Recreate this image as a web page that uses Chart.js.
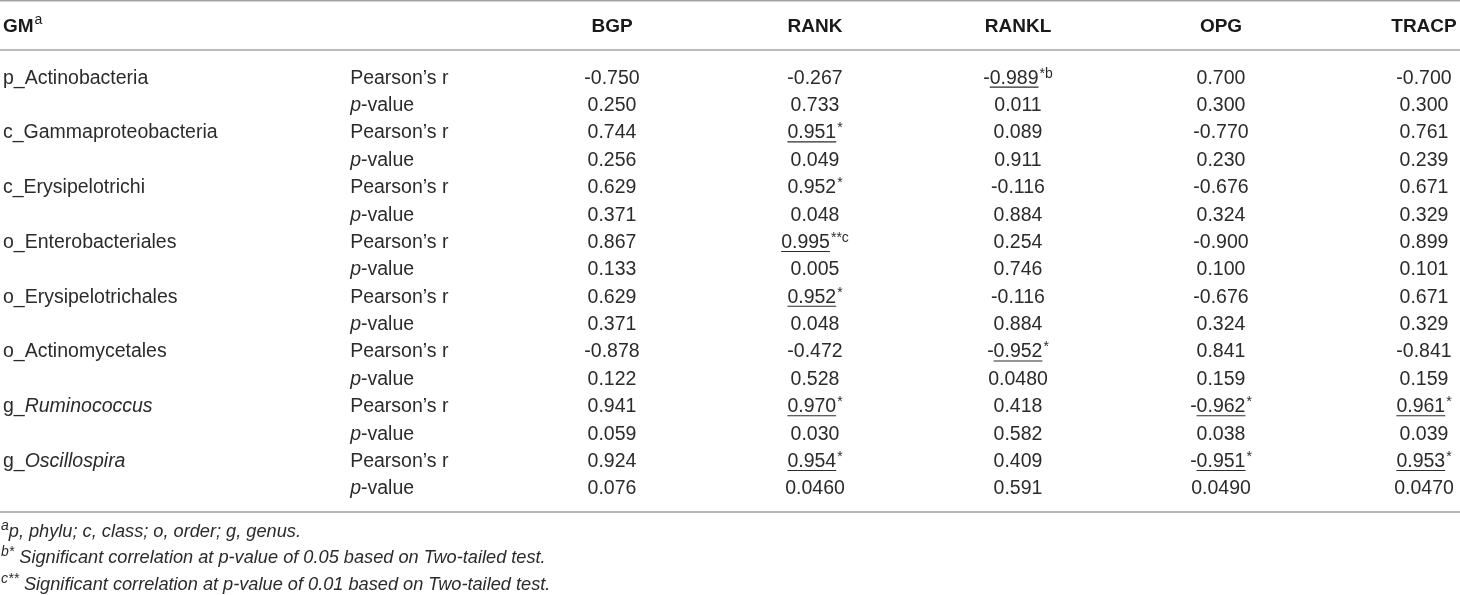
<!DOCTYPE html>
<html>
<head>
<meta charset="utf-8">
<title>GM correlation table</title>
<script src="https://cdn.jsdelivr.net/npm/chart.js@4.4.1/dist/chart.umd.min.js"></script>
<style>
    html, body { margin: 0; padding: 0; background: #ffffff; overflow: hidden; }
    #wrap { width: 1460px; height: 595px; }
    canvas { display: block; }
</style>
</head>
<body>
<div id="wrap"><canvas id="table" width="1460" height="595"></canvas></div>
<script>
// Table content
// [x] marks an underlined value, anything after the number is a superscript
const taxa = ['p_Actinobacteria', 'c_Gammaproteobacteria', 'c_Erysipelotrichi', 'o_Enterobacteriales',
    'o_Erysipelotrichales', 'o_Actinomycetales', 'g_Ruminococcus', 'g_Oscillospira'];
const statLabels = ['Pearson\u2019s r', 'p-value'];
const markers = ['BGP', 'RANK', 'RANKL', 'OPG', 'TRACP'];

const bgpR = ['-0.750', '0.744', '0.629', '0.867', '0.629', '-0.878', '0.941', '0.924'];
const bgpP = ['0.250', '0.256', '0.371', '0.133', '0.371', '0.122', '0.059', '0.076'];
const rankR = ['-0.267', '[0.951]*', '0.952*', '[0.995]**c', '[0.952]*', '-0.472', '[0.970]*', '[0.954]*'];
const rankP = ['0.733', '0.049', '0.048', '0.005', '0.048', '0.528', '0.030', '0.0460'];
const ranklR = ['-[0.989]*b', '0.089', '-0.116', '0.254', '-0.116', '-[0.952]*', '0.418', '0.409'];
const ranklP = ['0.011', '0.911', '0.884', '0.746', '0.884', '0.0480', '0.582', '0.591'];
const opgR = ['0.700', '-0.770', '-0.676', '-0.900', '-0.676', '0.841', '-[0.962]*', '-[0.951]*'];
const opgP = ['0.300', '0.230', '0.324', '0.100', '0.324', '0.159', '0.038', '0.0490'];
const tracpR = ['-0.700', '0.761', '0.671', '0.899', '0.671', '-0.841', '[0.961]*', '[0.953]*'];
const tracpP = ['0.300', '0.239', '0.329', '0.101', '0.329', '0.159', '0.039', '0.0470'];

const footnotes = [
    ['a', 'p, phylu; c, class; o, order; g, genus.'],
    ['b*', ' Significant correlation at p-value of 0.05 based on Two-tailed test.'],
    ['c**', ' Significant correlation at p-value of 0.01 based on Two-tailed test.']
];

// Layout (in scale units: x = column slot, y = row slot)
const COL_TAXON = -3;
const COL_STAT = -1.29;
const ROW_HEADER = -1.88;
const RULES = [-2.77, -0.974, 15.9];
const FOOT_ROWS = [16.55, 17.52, 18.49];

const FONT = "'Liberation Sans', Arial, Helvetica, sans-serif";
const TEXT = '#2b2b2b';
const RULE = '#a3a3a3';
const SUP = 14;

function interleave(r, p) {
    const out = [];
    r.forEach((v, i) => { out.push(v, p[i]); });
    return out;
}

const valueCols = [[bgpR, bgpP], [rankR, rankP], [ranklR, ranklP], [opgR, opgP], [tracpR, tracpP]];

const datasets = [
    {
        kind: 'taxon',
        cells: taxa,
        data: taxa.map((t, i) => ({ x: COL_TAXON, y: i * 2 }))
    },
    {
        kind: 'stat',
        cells: taxa.flatMap(() => statLabels),
        data: taxa.flatMap((t, i) => [{ x: COL_STAT, y: i * 2 }, { x: COL_STAT, y: i * 2 + 1 }])
    }
];
valueCols.forEach((pair, k) => {
    const cells = interleave(pair[0], pair[1]);
    datasets.push({
        kind: 'value',
        cells,
        data: cells.map((c, i) => ({ x: k, y: i }))
    });
});
datasets.forEach(ds => { ds.pointRadius = 0; ds.pointHoverRadius = 0; });

function parseValue(s) {
    const m = s.match(/^(-?)(\[?)([\d.]+)\]?(.*)$/);
    return { sign: m[1], under: m[2] === '[', num: m[3], tail: m[4] };
}

// superscript followed by normal-size text
function drawSup(ctx, x, y, sup, text, italic, size) {
    const fs = italic ? 'italic ' : '';
    ctx.font = fs + SUP + 'px ' + FONT;
    const sw = ctx.measureText(sup).width;
    ctx.fillText(sup, x, y - 7);
    ctx.font = fs + size + 'px ' + FONT;
    ctx.fillText(text, x + sw, y);
}

const tablePlugin = {
    id: 'tableText',
    afterDatasetsDraw(chart) {
        const ctx = chart.ctx;
        const xs = chart.scales.x;
        const ys = chart.scales.y;
        const body = '19.5px ' + FONT;
        ctx.save();
        ctx.fillStyle = TEXT;
        ctx.strokeStyle = TEXT;
        ctx.textBaseline = 'alphabetic';
        ctx.textAlign = 'left';

        // rules
        ctx.save();
        ctx.strokeStyle = RULE;
        ctx.lineWidth = 1.6;
        RULES.forEach(r => {
            const y = ys.getPixelForValue(r);
            ctx.beginPath();
            ctx.moveTo(0, y);
            ctx.lineTo(chart.width, y);
            ctx.stroke();
        });
        ctx.restore();

        // header
        const hy = ys.getPixelForValue(ROW_HEADER) + 7;
        ctx.fillStyle = '#1a1a1a';
        ctx.font = 'bold 19px ' + FONT;
        ctx.fillText('GM', xs.getPixelForValue(COL_TAXON), hy);
        const gmW = ctx.measureText('GM').width;
        ctx.font = SUP + 'px ' + FONT;
        ctx.fillText('a', xs.getPixelForValue(COL_TAXON) + gmW + 1, hy - 8);
        ctx.font = 'bold 19px ' + FONT;
        ctx.textAlign = 'center';
        markers.forEach((m, k) => ctx.fillText(m, xs.getPixelForValue(k), hy));
        ctx.textAlign = 'left';
        ctx.fillStyle = TEXT;

        // cells
        chart.data.datasets.forEach((ds, di) => {
            const meta = chart.getDatasetMeta(di);
            meta.data.forEach((el, i) => {
                const x = el.x;
                const y = el.y + 7;
                const s = ds.cells[i];
                if (ds.kind === 'taxon') {
                    if (s.startsWith('g_')) {
                        ctx.font = body;
                        ctx.fillText('g_', x, y);
                        const w = ctx.measureText('g_').width;
                        ctx.font = 'italic ' + body;
                        ctx.fillText(s.slice(2), x + w, y);
                    } else {
                        ctx.font = body;
                        ctx.fillText(s, x, y);
                    }
                } else if (ds.kind === 'stat') {
                    if (s.startsWith('p-')) {
                        ctx.font = 'italic ' + body;
                        ctx.fillText('p', x, y);
                        const w = ctx.measureText('p').width;
                        ctx.font = body;
                        ctx.fillText(s.slice(1), x + w, y);
                    } else {
                        ctx.font = body;
                        ctx.fillText(s, x, y);
                    }
                } else {
                    const v = parseValue(s);
                    ctx.font = body;
                    const signW = ctx.measureText(v.sign).width;
                    const numW = ctx.measureText(v.num).width;
                    ctx.font = SUP + 'px ' + FONT;
                    const tailW = v.tail ? ctx.measureText(v.tail).width + 1 : 0;
                    const total = signW + numW + tailW;
                    let cx = x - total / 2;
                    ctx.font = body;
                    ctx.fillText(v.sign, cx, y);
                    cx += signW;
                    ctx.fillText(v.num, cx, y);
                    if (v.under) {
                        ctx.lineWidth = 1.1;
                        ctx.beginPath();
                        ctx.moveTo(cx, y + 3.5);
                        ctx.lineTo(cx + numW, y + 3.5);
                        ctx.stroke();
                    }
                    cx += numW;
                    if (v.tail) {
                        ctx.font = SUP + 'px ' + FONT;
                        ctx.fillText(v.tail, cx + 1, y - 6);
                    }
                }
            });
        });

        // footnotes
        footnotes.forEach((f, i) => {
            const y = ys.getPixelForValue(FOOT_ROWS[i]) + 7;
            drawSup(ctx, xs.getPixelForValue(COL_TAXON) - 2, y, f[0], f[1], true, 18.2);
        });
        ctx.restore();
    }
};

new Chart(document.getElementById('table'), {
    type: 'scatter',
    data: { datasets },
    options: {
        responsive: false,
        animation: false,
        devicePixelRatio: 1,
        events: [],
        layout: { padding: { left: 3, right: 36, top: 0, bottom: 83 } },
        plugins: { legend: { display: false }, tooltip: { enabled: false } },
        scales: {
            x: { type: 'linear', min: COL_TAXON, max: 4, display: false },
            y: { type: 'linear', min: -2.8, max: 15.9, reverse: true, display: false }
        }
    },
    plugins: [tablePlugin]
});
</script>
</body>
</html>
